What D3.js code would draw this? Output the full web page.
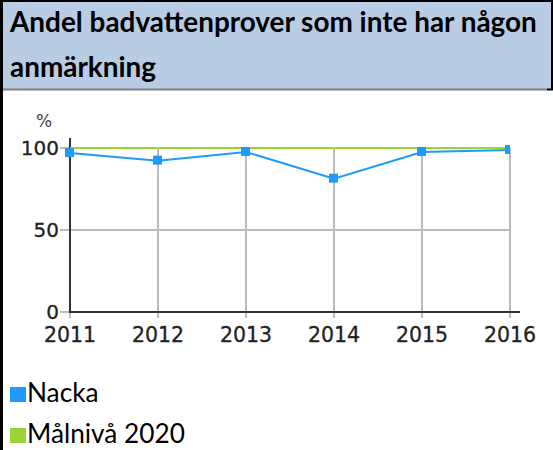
<!DOCTYPE html>
<html>
<head>
<meta charset="utf-8">
<script src="https://cdn.jsdelivr.net/npm/d3@7"></script>
<style>
  body { margin: 0; background: #fff; }
  svg { display: block; }
</style>
</head>
<body>
<script>
var years = ["2011", "2012", "2013", "2014", "2015", "2016"];
var nacka = [96.9, 92.3, 97.6, 81.3, 97.6, 98.8];
var goal = [100, 100, 100, 100, 100, 100];
var yTicks = [0, 50, 100];
var titleLines = ["Andel badvattenprover som inte har någon", "anmärkning"];
var legendNames = ["Nacka", "Målnivå 2020"];
var colors = ["#1e9bfa", "#99d533"];

var svg = d3.select("body").append("svg")
    .attr("width", 553)
    .attr("height", 450);

// header box
svg.append("rect").attr("x", 3).attr("y", 2).attr("width", 549).attr("height", 87)
    .style("fill", "#b8cce4");
svg.append("line").attr("x1", 3).attr("x2", 547).attr("y1", 89.5).attr("y2", 89.5)
    .style("stroke", "#808080").style("stroke-width", 2);
svg.append("line").attr("x1", 547).attr("x2", 553).attr("y1", 89.5).attr("y2", 89.5)
    .style("stroke", "#000").style("stroke-width", 2);
svg.append("line").attr("x1", 0).attr("x2", 553).attr("y1", 1).attr("y2", 1)
    .style("stroke", "#000").style("stroke-width", 2);
svg.append("line").attr("x1", 552).attr("x2", 552).attr("y1", 0).attr("y2", 90)
    .style("stroke", "#000").style("stroke-width", 2);
svg.append("line").attr("x1", 1.5).attr("x2", 1.5).attr("y1", 0).attr("y2", 450)
    .style("stroke", "#000").style("stroke-width", 3);

var title = svg.selectAll(".title").data(titleLines).enter().append("text")
    .attr("class", "title")
    .attr("x", 10)
    .attr("y", function (d, i) { return 32 + i * 45; })
    .style("font-family", "Lato, sans-serif")
    .style("font-weight", "bold")
    .style("font-size", "24px")
    .style("fill", "#000")
    .text(function (d) { return d; });
// fit first line to the width seen in the picture
var w0 = title.node().getComputedTextLength();
title.style("font-size", (24 * 527 / w0) + "px");

// scales
var x = d3.scalePoint().domain(years).range([70, 510]);
var y = d3.scaleLinear().domain([0, 100]).range([312, 148]);

var font = "DejaVu Sans, Verdana, sans-serif";

// grid
svg.append("g").selectAll("line").data(years).enter().append("line")
    .attr("x1", function (d) { return x(d); }).attr("x2", function (d) { return x(d); })
    .attr("y1", y(100)).attr("y2", y(0) + 6)
    .style("stroke", "#bcbcbc").style("stroke-width", 2);
svg.append("g").selectAll("line").data(yTicks).enter().append("line")
    .attr("x1", 60).attr("x2", 510)
    .attr("y1", function (d) { return y(d); }).attr("y2", function (d) { return y(d); })
    .style("stroke", "#bcbcbc").style("stroke-width", 2);

// axes lines
svg.append("line").attr("x1", 70).attr("x2", 70).attr("y1", 138).attr("y2", y(0) + 1)
    .style("stroke", "#333").style("stroke-width", 2);
svg.append("line").attr("x1", 69).attr("x2", 520).attr("y1", y(0)).attr("y2", y(0))
    .style("stroke", "#333").style("stroke-width", 2);

// tick labels
svg.append("g").selectAll("text").data(yTicks).enter().append("text")
    .attr("x", 59)
    .attr("y", function (d) { return y(d) + 7; })
    .attr("text-anchor", "end")
    .style("font-family", font).style("font-size", "20px").style("fill", "#222")
    .style("stroke", "#222").style("stroke-width", 0.3)
    .text(function (d) { return d; });
svg.append("g").selectAll("text").data(years).enter().append("text")
    .attr("x", function (d) { return x(d); })
    .attr("y", 342)
    .attr("text-anchor", "middle")
    .style("font-family", font).style("font-size", "20.5px").style("fill", "#222")
    .style("stroke", "#222").style("stroke-width", 0.3)
    .text(function (d) { return d; });
svg.append("text").attr("x", 44).attr("y", 127).attr("text-anchor", "middle")
    .style("font-family", font).style("font-size", "17px").style("fill", "#444")
    .text("%");

// clip for the plot
svg.append("clipPath").attr("id", "plot")
    .append("rect").attr("x", 60).attr("y", 130).attr("width", 450).attr("height", 190);

var plot = svg.append("g").attr("clip-path", "url(#plot)");
var line = d3.line()
    .x(function (d, i) { return x(years[i]); })
    .y(function (d) { return y(d); });

plot.append("path").datum(goal).attr("d", line)
    .style("fill", "none").style("stroke", colors[1]).style("stroke-width", 2);
plot.append("path").datum(nacka).attr("d", line)
    .style("fill", "none").style("stroke", colors[0]).style("stroke-width", 2);
plot.selectAll(".mk").data(nacka).enter().append("rect")
    .attr("class", "mk")
    .attr("x", function (d, i) { return x(years[i]) - 5; })
    .attr("y", function (d) { return y(d) - 5; })
    .attr("width", 9).attr("height", 9)
    .style("fill", colors[0]);

// legend
var leg = svg.selectAll(".leg").data(legendNames).enter().append("g")
    .attr("class", "leg")
    .attr("transform", function (d, i) { return "translate(10," + (387 + i * 41) + ")"; });
leg.append("rect").attr("width", 16).attr("height", 15)
    .style("fill", function (d, i) { return colors[i]; });
var legText = leg.append("text").attr("x", 17).attr("y", 15)
    .style("font-family", "Lato, sans-serif").style("font-size", "24px").style("fill", "#000")
    .text(function (d) { return d; });
var lw = legText.nodes()[1].getComputedTextLength();
legText.style("font-size", (24 * 158 / lw) + "px");
</script>
</body>
</html>
